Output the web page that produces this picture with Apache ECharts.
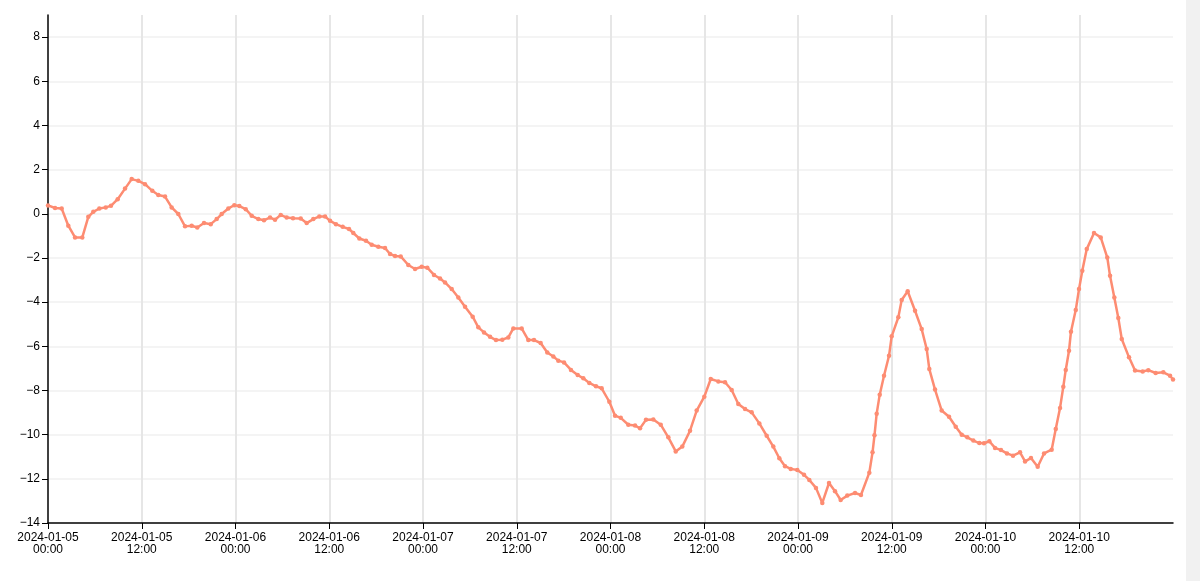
<!DOCTYPE html>
<html>
<head>
<meta charset="utf-8">
<script src="https://cdn.jsdelivr.net/npm/echarts@6/dist/echarts.min.js"></script>
<style>
html,body{margin:0;padding:0;background:#fff;}
#chart{width:1200px;height:581px;}
</style>
</head>
<body>
<div id="chart"></div>
<script>
// hours since 2024-01-05 00:00
const hoursOffset = [0,0.90,1.75,2.60,3.46,4.39,5.16,5.80,6.57,7.39,8.06,8.92,9.86,10.71,11.56,12.42,13.35,14.12,14.98,15.83,16.68,17.54,18.39,19.11,19.97,20.83,21.59,22.23,23.08,23.85,24.49,25.31,26.07,26.92,27.65,28.42,29.06,29.79,30.55,31.36,32.35,33.11,33.96,34.73,35.46,36.10,36.86,37.72,38.53,39.08,39.85,40.70,41.43,42.28,43.14,43.78,44.42,45.15,46.12,46.98,47.83,48.55,49.41,50.18,50.82,51.67,52.52,53.38,54.36,55.08,55.81,56.58,57.34,58.15,58.92,59.56,60.63,61.48,62.21,63.06,63.91,64.68,65.32,66.05,66.94,67.80,68.52,69.29,70.14,70.87,71.85,72.58,73.31,74.28,75.14,75.78,76.54,77.48,78.43,79.40,80.35,81.19,82.18,83.03,84.01,84.83,85.80,86.66,87.51,88.36,89.22,90.07,91.05,91.99,92.84,93.61,94.34,95.07,95.91,96.77,97.45,98.30,99.11,99.97,100.74,101.46,102.31,103.30,104.06,105.13,105.54,105.79,106.07,106.46,107.01,107.65,107.99,108.84,109.27,110.04,110.98,111.83,112.47,112.81,113.54,114.39,115.33,116.19,116.96,117.67,118.44,119.21,119.81,120.49,121.22,121.98,122.75,123.52,124.42,125.06,125.82,126.68,127.49,128.47,128.99,129.54,129.96,130.27,130.69,130.94,131.55,131.97,132.39,132.96,133.89,134.75,135.59,135.94,136.49,137.00,137.44,138.37,139.14,140.12,140.84,141.78,142.76,143.62,144.00];
const values = [0.38,0.26,0.24,-0.54,-1.07,-1.07,-0.14,0.09,0.24,0.29,0.36,0.66,1.14,1.57,1.49,1.34,1.04,0.85,0.78,0.29,-0.01,-0.57,-0.54,-0.62,-0.42,-0.47,-0.24,-0.01,0.24,0.39,0.35,0.21,-0.09,-0.24,-0.29,-0.17,-0.27,-0.05,-0.17,-0.20,-0.21,-0.42,-0.24,-0.12,-0.12,-0.32,-0.47,-0.59,-0.69,-0.87,-1.12,-1.22,-1.40,-1.49,-1.55,-1.82,-1.91,-1.93,-2.32,-2.50,-2.40,-2.44,-2.77,-2.93,-3.11,-3.41,-3.79,-4.21,-4.66,-5.14,-5.37,-5.57,-5.72,-5.70,-5.60,-5.19,-5.19,-5.72,-5.72,-5.85,-6.28,-6.46,-6.65,-6.73,-7.07,-7.30,-7.45,-7.66,-7.81,-7.90,-8.51,-9.14,-9.24,-9.55,-9.59,-9.71,-9.33,-9.31,-9.55,-10.12,-10.76,-10.54,-9.82,-8.91,-8.28,-7.48,-7.59,-7.63,-7.98,-8.61,-8.84,-8.99,-9.49,-10.05,-10.54,-11.07,-11.43,-11.55,-11.60,-11.82,-12.05,-12.41,-13.09,-12.19,-12.56,-12.96,-12.76,-12.64,-12.73,-11.72,-10.80,-10.03,-9.05,-8.19,-7.33,-6.43,-5.55,-4.69,-3.90,-3.51,-4.39,-5.22,-6.12,-7.03,-7.96,-8.91,-9.19,-9.64,-10.00,-10.12,-10.27,-10.38,-10.39,-10.30,-10.60,-10.70,-10.85,-10.95,-10.80,-11.21,-11.06,-11.45,-10.85,-10.68,-9.74,-8.79,-7.83,-7.07,-6.20,-5.34,-4.36,-3.41,-2.58,-1.60,-0.87,-1.07,-1.98,-2.81,-3.79,-4.72,-5.67,-6.50,-7.10,-7.14,-7.08,-7.21,-7.18,-7.33,-7.50];
const yTicks = [-14,-12,-10,-8,-6,-4,-2,0,2,4,6,8];
const xTickLabels = ['2024-01-05\n00:00','2024-01-05\n12:00','2024-01-06\n00:00','2024-01-06\n12:00','2024-01-07\n00:00','2024-01-07\n12:00','2024-01-08\n00:00','2024-01-08\n12:00','2024-01-09\n00:00','2024-01-09\n12:00','2024-01-10\n00:00','2024-01-10\n12:00'];

const seriesData = hoursOffset.map((h,i)=>[h, values[i]]);
const chart = echarts.init(document.getElementById('chart'));
const font = 'Liberation Sans, Arial, sans-serif';
chart.setOption({
  animation:false,
  backgroundColor:'#fff',
  grid:{left:48,right:27,top:15,bottom:58,containLabel:false},
  xAxis:{
    type:'value', min:0, max:144, interval:12,
    axisLine:{show:true,onZero:false,lineStyle:{color:'#000',width:1.5}},
    axisTick:{show:true,length:6,lineStyle:{color:'#000',width:1}},
    axisLabel:{
      color:'#000',fontSize:12,fontFamily:font,margin:9,lineHeight:12,
      showMaxLabel:false,hideOverlap:false,
      formatter:function(v){const i=Math.round(v/12);return xTickLabels[i]||'';}
    },
    splitLine:{show:true,showMinLine:false,showMaxLine:false,lineStyle:{color:'#e6e6e6',width:2}}
  },
  yAxis:{
    type:'value', min:-14, max:9, interval:2,
    axisLine:{show:true,onZero:false,lineStyle:{color:'#000',width:1.5}},
    axisTick:{show:true,length:6,lineStyle:{color:'#000',width:1}},
    axisLabel:{color:'#000',fontSize:12,fontFamily:font,margin:8,
      showMaxLabel:false,
      formatter:function(v){return yTicks.indexOf(v)>=0 ? String(v).replace('-','\u2212') : '';}},
    splitLine:{show:true,showMinLine:false,showMaxLine:false,lineStyle:{color:'#f0f0f0',width:1.5}}
  },
  series:[{
    type:'line', data:seriesData,
    symbol:'circle', symbolSize:4.5, showSymbol:true,
    lineStyle:{color:'#fd8c72',width:2.5},
    itemStyle:{color:'#fd8c72'},
    z:5
  }],
  graphic:[{type:'rect',shape:{x:1186,y:0,width:14,height:581},style:{fill:'#f1f1f1'},silent:true}]
});
</script>
</body>
</html>
